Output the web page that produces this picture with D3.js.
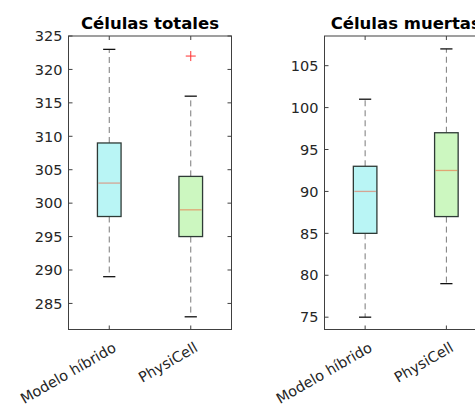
<!DOCTYPE html>
<html>
<head>
<meta charset="utf-8">
<script src="https://cdn.jsdelivr.net/npm/d3@7"></script>
<style>
  body { margin: 0; background: #fff; }
  svg { display: block; font-family: "DejaVu Sans", sans-serif; }
</style>
</head>
<body>
<div id="chart"></div>
<script>
// DATA
var groups = ['Modelo híbrido', 'PhysiCell'];
var boxColors = ['#b9f5f5', '#ccf7c0'];

// [lower whisker, q1, median, q3, upper whisker]
var totalBoxes = [[289, 298, 303, 309, 323], [283, 295, 299, 304, 316]];
var totalOutliers = [[], [322]];
var totalTicks = [285, 290, 295, 300, 305, 310, 315, 320, 325];

var deadBoxes = [[75, 85, 90, 93, 101], [79, 87, 92.5, 97, 107]];
var deadOutliers = [[], []];
var deadTicks = [75, 80, 85, 90, 95, 100, 105];

var svg = d3.select('#chart')
  .append('svg')
  .attr('width', 475)
  .attr('height', 404);

function drawPanel(opt) {
  var x = d3.scaleLinear().domain([0.5, 2.5]).range([opt.left, opt.right]);
  var y = d3.scaleLinear().domain(opt.domain).range([opt.bottom, opt.top]);
  var g = svg.append('g');
  var axisColor = '#404040';
  var boxW = 0.145, capW = 0.075;

  // boxes
  opt.boxes.forEach(function(b, i) {
    var cx = x(i + 1);
    var bw = x(1 + boxW) - x(1);
    var cw = x(1 + capW) - x(1);
    // whiskers
    g.append('line')
      .attr('x1', cx).attr('x2', cx)
      .attr('y1', y(b[3])).attr('y2', y(b[4]))
      .attr('stroke', '#7a7a7a').attr('stroke-dasharray', '6,4');
    g.append('line')
      .attr('x1', cx).attr('x2', cx)
      .attr('y1', y(b[1])).attr('y2', y(b[0]))
      .attr('stroke', '#7a7a7a').attr('stroke-dasharray', '6,4');
    // caps
    [b[0], b[4]].forEach(function(v) {
      g.append('line')
        .attr('x1', cx - cw).attr('x2', cx + cw)
        .attr('y1', y(v)).attr('y2', y(v))
        .attr('stroke', '#111').attr('stroke-width', 1.3);
    });
    // box
    g.append('rect')
      .attr('x', cx - bw).attr('width', 2 * bw)
      .attr('y', y(b[3])).attr('height', y(b[1]) - y(b[3]))
      .attr('fill', boxColors[i])
      .attr('stroke', '#2e3a36').attr('stroke-width', 1.3);
    // median
    g.append('line')
      .attr('x1', cx - bw + 1).attr('x2', cx + bw - 1)
      .attr('y1', y(b[2])).attr('y2', y(b[2]))
      .attr('stroke', '#ff2a00').attr('stroke-opacity', 0.4)
      .attr('stroke-width', 1.3);
    // outliers
    opt.outliers[i].forEach(function(v) {
      g.append('path')
        .attr('d', 'M' + (cx - 5) + ',' + y(v) + 'h10M' + cx + ',' + (y(v) - 5) + 'v10')
        .attr('stroke', '#ff3030').attr('stroke-width', 1);
    });
  });

  // frame
  g.append('rect')
    .attr('x', opt.left).attr('y', opt.top)
    .attr('width', opt.right - opt.left).attr('height', opt.bottom - opt.top)
    .attr('fill', 'none').attr('stroke', axisColor).attr('stroke-width', 1);

  // y ticks (inside, both sides) and labels
  opt.ticks.forEach(function(t) {
    g.append('line')
      .attr('x1', opt.left).attr('x2', opt.left + 4)
      .attr('y1', y(t)).attr('y2', y(t)).attr('stroke', axisColor);
    g.append('line')
      .attr('x1', opt.right).attr('x2', opt.right - 4)
      .attr('y1', y(t)).attr('y2', y(t)).attr('stroke', axisColor);
    g.append('text')
      .attr('x', opt.left - 6).attr('y', y(t))
      .attr('dy', '0.36em')
      .attr('text-anchor', 'end')
      .attr('font-size', '14.5px')
      .attr('fill', '#262626')
      .text(t);
  });

  // x ticks and rotated labels
  groups.forEach(function(name, i) {
    var cx = x(i + 1);
    g.append('line')
      .attr('x1', cx).attr('x2', cx)
      .attr('y1', opt.bottom).attr('y2', opt.bottom - 4).attr('stroke', axisColor);
    g.append('line')
      .attr('x1', cx).attr('x2', cx)
      .attr('y1', opt.top).attr('y2', opt.top + 4).attr('stroke', axisColor);
    g.append('text')
      .attr('transform', 'translate(' + (cx + 8) + ',' + (opt.bottom + 21) + ') rotate(-30)')
      .attr('text-anchor', 'end')
      .attr('font-size', '14.5px')
      .attr('fill', '#262626')
      .text(name);
  });

  // title
  g.append('text')
    .attr('x', (opt.left + opt.right) / 2).attr('y', opt.top - 7)
    .attr('text-anchor', 'middle')
    .attr('font-size', '16.5px')
    .attr('font-weight', 'bold')
    .attr('fill', '#000')
    .text(opt.title);
}

drawPanel({
  title: 'Células totales',
  boxes: totalBoxes, outliers: totalOutliers, ticks: totalTicks,
  domain: [281.1, 325],
  left: 68.5, right: 231.5, top: 36, bottom: 329.5
});

drawPanel({
  title: 'Células muertas',
  boxes: deadBoxes, outliers: deadOutliers, ticks: deadTicks,
  domain: [73.53, 108.54],
  left: 324.5, right: 487, top: 36, bottom: 329.5
});
</script>
</body>
</html>
